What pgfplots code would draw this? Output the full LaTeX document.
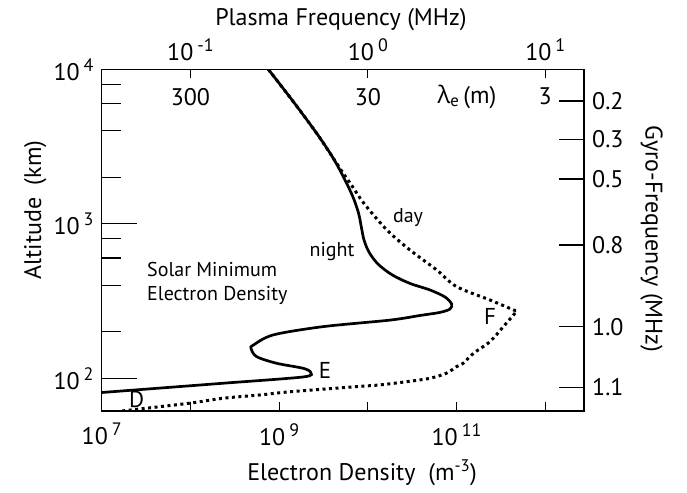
\documentclass[border=0pt]{standalone}
\usepackage{fontspec}
\setmainfont{PT Sans}
\newfontfamily\greekfont{Open Sans}
\usepackage{pgfplots}
\pgfplotsset{compat=1.18}
% power-of-ten label with a large raised exponent
\newcommand{\ex}[1]{10\,\raisebox{9bp}{\fontsize{18bp}{18bp}\selectfont #1}}

\begin{document}
\fontsize{24bp}{28bp}\selectfont
\begin{tikzpicture}
% main axis: data + bottom ticks
\begin{axis}[name=main,
  width=482.3bp, height=341.7bp, scale only axis,
  xmode=log, ymode=log,
  xmin=1e7, xmax=2.735e12, ymin=61.4, ymax=1e4,
  xminorticks=false, yminorticks=false,
  tick align=inside,
  axis line style={line width=1.2bp},
  tick style={black, line width=1.2bp},
  xtick={1e7,1e8,1e9,1e10,1e11,1e12},
  xticklabels={\ex{7},,\ex{9},,\ex{11},},
  xtick pos=bottom,
  xticklabel style={yshift=-4bp},
  major tick length=9bp,
  ytick=\empty,
  xlabel={Electron Density\ \ (m\textsuperscript{-3})},
  xlabel style={at={(axis description cs:0.540,-0.181)}, anchor=center},
]
% night
\addplot[black, line width=2.7bp, smooth, tension=0.5] coordinates {
(7.55e8,10000) (1.40e9,6324) (2.65e9,3855) (4.06e9,2667) (5.53e9,1919)
(6.81e9,1489) (7.85e9,1175) (8.49e9,939) (9.06e9,785) (1.03e10,656)
(1.30e10,549) (1.88e10,467) (2.99e10,411) (5.02e10,373) (7.41e10,336)
(8.79e10,303) (8.45e10,281) (6.52e10,267) (3.88e10,255) (1.78e10,238)
(3.15e9,216) (8.61e8,191) (5.12e8,164) (4.82e8,156) (5.58e8,138)
(9.40e8,125) (1.87e9,116) (2.27e9,109) (1.87e9,102) (2.35e8,92.9)
(4.17e7,86.1) (1.0e7,80.9)
};
% day
\addplot[black, line width=3bp, dash pattern=on 3bp off 3.5bp, smooth, tension=0.5] coordinates {
(7.55e8,10000) (1.40e9,6324) (2.65e9,3855) (4.06e9,2667) (5.25e9,2133)
(6.64e9,1758) (8.61e9,1406) (1.21e10,1107) (1.78e10,871) (2.99e10,676)
(5.98e10,502) (1.00e11,392) (2.39e11,321) (4.37e11,277) (4.69e11,270)
(3.37e11,216) (2.39e11,173) (1.55e11,145) (1.19e11,125) (1.00e11,119)
(7.74e10,108) (5.02e10,100) (2.75e10,95.1) (1.37e10,90.6) (7.50e9,88.3)
(1.33e9,81.8) (6.10e8,78.0) (2.35e8,74.3) (1.08e8,69.5) (4.54e7,65.5)
(1.68e7,61.4)
};
\node at (axis cs:1e8,6650) {300};
\node at (axis cs:1e10,6650) {30};
\node at (axis cs:1e12,6650) {3};
\node at (axis cs:1.31e11,6650) {{\greekfont λ}\textsubscript{e}\,(m)};
\node[font=\fontsize{20bp}{24bp}\selectfont] at (axis cs:2.84e10,1091) {day};
\node[font=\fontsize{20bp}{24bp}\selectfont] at (axis cs:3.95e9,659) {night};
\node[font=\fontsize{20bp}{23.5bp}\selectfont, anchor=west, align=left, inner sep=0pt] at (axis cs:3.24e7,412) {Solar Minimum\\Electron Density};
\node[font=\fontsize{23bp}{26bp}\selectfont] at (axis cs:3.29e9,113) {E};
\node[font=\fontsize{23bp}{26bp}\selectfont] at (axis cs:2.39e11,251) {F};
\node[font=\fontsize{23bp}{26bp}\selectfont] at (axis cs:2.48e7,72.4) {D};
\end{axis}
% left major ticks
\begin{axis}[
  width=482.3bp, height=341.7bp, scale only axis,
  xmode=log, ymode=log,
  xmin=1e7, xmax=2.735e12, ymin=61.4, ymax=1e4,
  xminorticks=false, yminorticks=false,
  tick align=inside,
  axis line style={line width=1.2bp},
  tick style={black, line width=1.2bp},
  axis x line=none, axis y line*=left,
  ytick={100,1000,10000},
  yticklabels={\ex{2},\ex{3},\ex{4}},
  major tick length=35bp,
  ylabel={Altitude\ \ (km)},
  ylabel style={at={(axis description cs:-0.138,0.588)}, anchor=center},
]
\end{axis}
% left minor ticks
\begin{axis}[
  width=482.3bp, height=341.7bp, scale only axis,
  xmode=log, ymode=log,
  xmin=1e7, xmax=2.735e12, ymin=61.4, ymax=1e4,
  xminorticks=false, yminorticks=false,
  tick align=inside,
  axis line style={line width=1.2bp},
  tick style={black, line width=1.2bp},
  axis x line=none, axis y line*=left,
  ytick={200,400,600,800,2000,4000,6000,8000},
  yticklabels={},
  major tick length=19bp,
]
\end{axis}
% top: plasma frequency
\begin{axis}[
  width=482.3bp, height=341.7bp, scale only axis,
  xmode=log, ymode=log,
  xmin=1e7, xmax=2.735e12, ymin=61.4, ymax=1e4,
  xminorticks=false, yminorticks=false,
  tick align=inside,
  axis line style={line width=1.2bp},
  tick style={black, line width=1.2bp},
  axis y line=none, axis x line*=top,
  xtick={1e8,1e10,1e12},
  xticklabels={\ex{-1},\ex{0},\ex{1}},
  major tick length=9bp,
  xlabel={Plasma Frequency (MHz)},
  xlabel style={at={(axis description cs:0.496,1.144)}, anchor=center},
]
\end{axis}
% right: gyro-frequency
\begin{axis}[
  width=482.3bp, height=341.7bp, scale only axis,
  xmode=log, ymode=log,
  xmin=1e7, xmax=2.735e12, ymin=61.4, ymax=1e4,
  xminorticks=false, yminorticks=false,
  tick align=inside,
  axis line style={line width=1.2bp},
  tick style={black, line width=1.2bp},
  axis x line=none, axis y line*=right,
  ytick={6237,3523,1950,729,216,87.5},
  yticklabels={0.2,0.3,0.5,0.8,1.0,1.1},
  major tick length=25bp,
  ylabel={Gyro-Frequency (MHz)},
  ylabel style={at={(axis description cs:1.140,0.503)}, anchor=center, rotate=180},
]
\end{axis}
\pgfresetboundingbox
\path[use as bounding box] ([xshift=-101.7bp,yshift=-81bp]main.south west) rectangle ([xshift=103bp,yshift=69.3bp]main.north east);
\end{tikzpicture}
\end{document}
